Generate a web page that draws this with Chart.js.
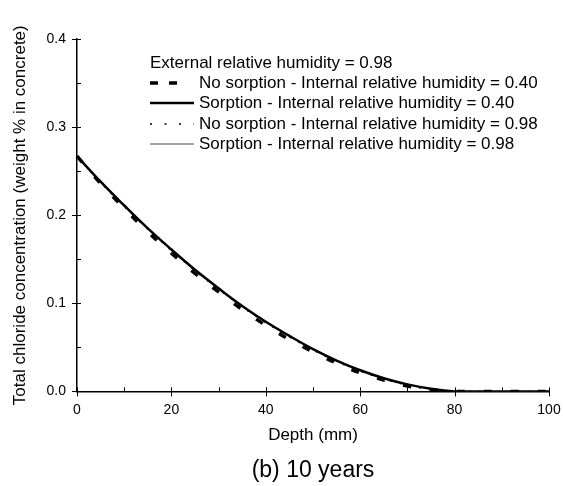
<!DOCTYPE html>
<html>
<head>
<meta charset="utf-8">
<title>Total chloride concentration - 10 years</title>
<script src="https://cdn.jsdelivr.net/npm/chart.js@4"></script>
<style>
    html, body { margin: 0; padding: 0; background: #fff; }
    #chart { display: block; }
</style>
</head>
<body>
<canvas id="chart" width="563" height="486"></canvas>
<script>
// ---------------------------------------------
// DATA
// ---------------------------------------------
const depthMm = [0, 5, 10, 15, 20, 25, 30, 35, 40, 45, 50, 55, 60, 65, 70, 75, 80, 85, 90, 95, 100];

const noSorption040 = [0.267, 0.236, 0.208, 0.181, 0.157, 0.134, 0.113, 0.093, 0.075, 0.059, 0.045, 0.032, 0.021, 0.013, 0.006, 0.002, 0.0, 0.0, 0.0, 0.0, 0.0];
const sorption040   = [0.267, 0.238, 0.211, 0.185, 0.161, 0.138, 0.117, 0.097, 0.079, 0.063, 0.048, 0.035, 0.024, 0.015, 0.008, 0.003, 0.0, 0.0, 0.0, 0.0, 0.0];
const noSorption098 = [0.267, 0.237, 0.210, 0.184, 0.160, 0.137, 0.116, 0.096, 0.078, 0.062, 0.047, 0.034, 0.023, 0.014, 0.007, 0.002, 0.0, 0.0, 0.0, 0.0, 0.0];
const sorption098   = [0.267, 0.238, 0.211, 0.185, 0.161, 0.138, 0.117, 0.097, 0.079, 0.063, 0.048, 0.035, 0.024, 0.015, 0.008, 0.003, 0.0, 0.0, 0.0, 0.0, 0.0];

const seriesLabels = [
    "No sorption - Internal relative humidity = 0.40",
    "Sorption - Internal relative humidity = 0.40",
    "No sorption - Internal relative humidity = 0.98",
    "Sorption - Internal relative humidity = 0.98"
];
const legendHeader = "External relative humidity = 0.98";

const xTicks = [0, 20, 40, 60, 80, 100];
const yTicks = [0.0, 0.1, 0.2, 0.3, 0.4];

const FONT = "'Liberation Sans', Arial, sans-serif";

function toPoints(values) {
    return values.map((v, i) => ({ x: depthMm[i], y: v }));
}

// ---------------------------------------------
// AXIS TICKS (major crossing, minor inside)
// ---------------------------------------------
const axisTicks = {
    id: "axisTicks",
    afterDraw(chart) {
        const ctx = chart.ctx;
        const xs = chart.scales.x;
        const ys = chart.scales.y;
        const x0 = chart.chartArea.left;
        const y0 = chart.chartArea.bottom;
        ctx.save();
        ctx.strokeStyle = "#000";
        ctx.lineWidth = 1;

        // x axis
        for (let v = 0; v <= 100; v += 10) {
            const px = Math.round(xs.getPixelForValue(v)) + 0.5;
            const major = xTicks.includes(v);
            ctx.beginPath();
            ctx.moveTo(px, major ? y0 + 5 : y0);
            ctx.lineTo(px, y0 - 4);
            ctx.stroke();
        }
        // y axis
        for (let k = 0; k <= 8; k++) {
            const v = k * 0.05;
            const py = Math.round(ys.getPixelForValue(v)) + 0.5;
            const major = k % 2 === 0;
            ctx.beginPath();
            ctx.moveTo(major ? x0 - 5 : x0, py);
            ctx.lineTo(x0 + 4, py);
            ctx.stroke();
        }
        ctx.restore();
    }
};

// ---------------------------------------------
// LEGEND BOX (inside the plot, top right)
// ---------------------------------------------
const insideLegend = {
    id: "insideLegend",
    afterDraw(chart) {
        const ctx = chart.ctx;
        const left = 150;
        const textX = 199;
        const rowY = [63, 83, 103, 124, 144];
        const sampleEnd = [181, 194, 194, 194];
        ctx.save();
        ctx.font = "17px " + FONT;
        ctx.fillStyle = "#000";
        ctx.textBaseline = "middle";
        ctx.fillText(legendHeader, left, rowY[0]);

        chart.data.datasets.forEach((ds, i) => {
            const y = rowY[i + 1];
            ctx.beginPath();
            ctx.strokeStyle = ds.borderColor;
            ctx.lineWidth = ds.borderWidth;
            ctx.setLineDash(ds.legendDash || []);
            ctx.moveTo(left, y);
            ctx.lineTo(sampleEnd[i], y);
            ctx.stroke();
            ctx.setLineDash([]);
            ctx.fillText(ds.label, textX, y);
        });
        ctx.restore();
    }
};

// ---------------------------------------------
// CHART
// ---------------------------------------------
function initChart() {
    const canvas = document.getElementById("chart");

    new Chart(canvas.getContext("2d"), {
        type: "line",
        data: {
            datasets: [
                {
                    label: seriesLabels[0],
                    data: toPoints(noSorption040),
                    borderColor: "#000",
                    borderWidth: 3.5,
                    borderDash: [8, 19],
                    legendDash: [8, 11],
                    pointRadius: 0,
                    tension: 0.4
                },
                {
                    label: seriesLabels[1],
                    data: toPoints(sorption040),
                    borderColor: "#000",
                    borderWidth: 2.5,
                    pointRadius: 0,
                    tension: 0.4
                },
                {
                    label: seriesLabels[2],
                    data: toPoints(noSorption098),
                    borderColor: "#000",
                    borderWidth: 1.5,
                    borderDash: [2, 8],
                    legendDash: [2, 12.5],
                    pointRadius: 0,
                    tension: 0.4
                },
                {
                    label: seriesLabels[3],
                    data: toPoints(sorption098),
                    borderColor: "#444",
                    borderWidth: 1,
                    pointRadius: 0,
                    tension: 0.4
                }
            ]
        },
        options: {
            responsive: false,
            animation: false,
            layout: {
                padding: { left: 0, right: 14, top: 39, bottom: 0 }
            },
            plugins: {
                legend: { display: false },
                tooltip: { enabled: false },
                title: {
                    display: true,
                    position: "bottom",
                    fullSize: false,
                    text: "(b) 10 years",
                    color: "#000",
                    font: { family: FONT, size: 23, weight: "normal" },
                    padding: { top: 11, bottom: 2 }
                }
            },
            scales: {
                x: {
                    type: "linear",
                    min: 0,
                    max: 100,
                    afterFit(scale) {
                        scale.height = 54;
                        scale.paddingLeft = 0;
                        scale.paddingRight = 0;
                    },
                    afterBuildTicks(scale) { scale.ticks = xTicks.map(v => ({ value: v })); },
                    grid: { display: false },
                    border: { display: true, color: "#000", width: 1.5 },
                    ticks: {
                        color: "#000",
                        font: { family: FONT, size: 14 },
                        padding: 2,
                        maxRotation: 0
                    },
                    title: {
                        display: true,
                        text: "Depth (mm)",
                        color: "#000",
                        font: { family: FONT, size: 17 },
                        padding: { top: 0, bottom: 0 }
                    }
                },
                y: {
                    type: "linear",
                    min: 0,
                    max: 0.4,
                    afterFit(scale) {
                        scale.width = 77;
                        scale.paddingTop = 0;
                        scale.paddingBottom = 0;
                    },
                    afterBuildTicks(scale) { scale.ticks = yTicks.map(v => ({ value: v })); },
                    grid: { display: false },
                    border: { display: true, color: "#000", width: 1.5 },
                    ticks: {
                        color: "#000",
                        font: { family: FONT, size: 14 },
                        padding: 3,
                        callback: v => v.toFixed(1)
                    },
                    title: {
                        display: true,
                        text: "Total chloride concentration (weight % in concrete)",
                        color: "#000",
                        font: { family: FONT, size: 17 },
                        padding: { top: 10, bottom: 0 }
                    }
                }
            }
        },
        plugins: [axisTicks, insideLegend]
    });
}

document.addEventListener("DOMContentLoaded", initChart);
</script>
</body>
</html>
